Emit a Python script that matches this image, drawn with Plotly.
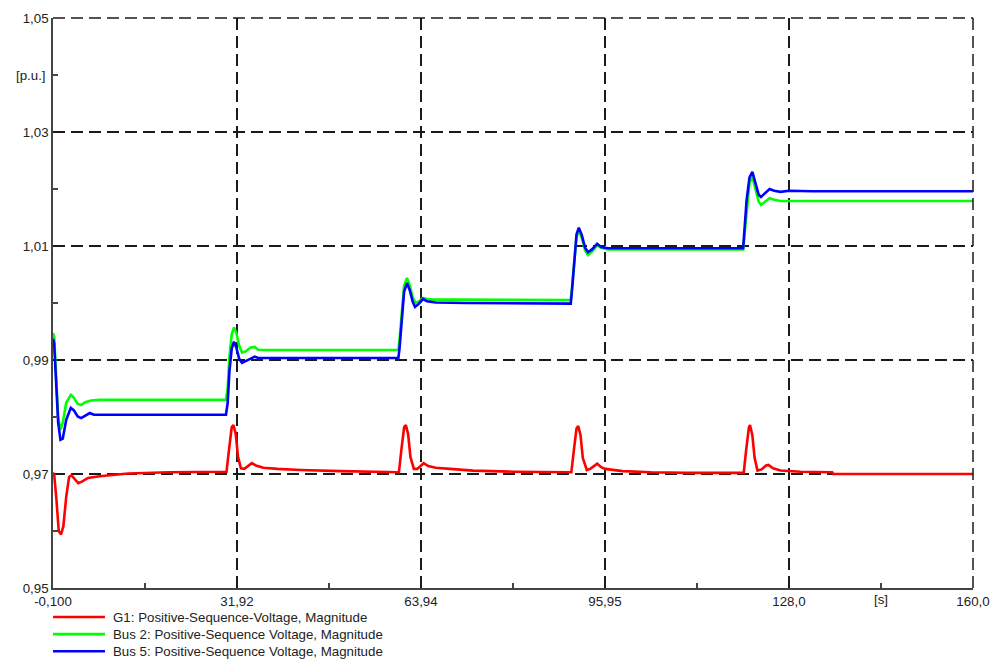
import plotly.graph_objects as go

# ---- data ----
t_g1 = [-0.1, 0.1, 0.5, 0.9, 1.3, 1.7, 2.2, 2.7, 3.1, 3.7, 4.3, 5.0, 6.0, 8.0, 10.0, 13.0, 20.0, 30.0,
        30.1, 30.5, 31.0, 31.3, 31.7, 32.1, 32.6, 33.2, 34.0, 34.5, 35.2, 36.5, 39.0, 43.0, 50.0, 60.0,
        60.1, 60.5, 61.0, 61.3, 61.7, 62.1, 62.7, 63.3, 64.0, 64.4, 65.2, 66.5, 69.0, 73.0, 80.0, 90.0,
        90.1, 90.5, 91.0, 91.3, 91.7, 92.1, 92.8, 93.4, 94.2, 94.6, 95.3, 96.0, 99.0, 104.0, 110.0, 120.0,
        120.1, 120.5, 121.0, 121.2, 121.6, 122.0, 122.5, 123.2, 124.0, 124.4, 125.2, 126.5, 130.0, 135.5, 135.7, 160.0]
v_g1 = [0.9702, 0.9700, 0.9655, 0.9600, 0.9594, 0.9608, 0.9660, 0.9695, 0.9698, 0.9690, 0.9684, 0.9687, 0.9693, 0.9696, 0.9698, 0.9701, 0.9703, 0.9704,
        0.9704, 0.9740, 0.9782, 0.9786, 0.9770, 0.9730, 0.9710, 0.9709, 0.9716, 0.9719, 0.9715, 0.9711, 0.9709, 0.9707, 0.9705, 0.9703,
        0.9703, 0.9740, 0.9782, 0.9786, 0.9770, 0.9730, 0.9709, 0.9709, 0.9716, 0.9719, 0.9714, 0.9711, 0.9709, 0.9706, 0.9704, 0.9703,
        0.9703, 0.9738, 0.9780, 0.9784, 0.9768, 0.9728, 0.9707, 0.9709, 0.9716, 0.9718, 0.9712, 0.9709, 0.9705, 0.9703, 0.9702, 0.9702,
        0.9702, 0.9740, 0.9782, 0.9786, 0.9768, 0.9728, 0.9706, 0.9708, 0.9715, 0.9716, 0.9710, 0.9706, 0.9704, 0.9703, 0.9700, 0.9700]

t_bus2 = [-0.1, 0.1, 0.4, 0.8, 1.2, 1.6, 2.2, 3.0, 3.5, 4.2, 4.8, 5.5, 6.5, 8.0, 30.0,
          30.3, 30.6, 31.0, 31.4, 31.8, 32.3, 32.8, 33.4, 34.3, 35.0, 35.6, 37.0, 60.0,
          60.2, 60.6, 61.0, 61.5, 62.0, 62.5, 63.0, 63.6, 64.3, 65.0, 66.0, 70.0, 90.0,
          90.2, 90.6, 91.0, 91.4, 91.9, 92.5, 93.0, 93.7, 94.6, 95.3, 96.5, 120.0,
          120.2, 120.6, 121.1, 121.6, 122.1, 122.7, 123.1, 123.8, 124.6, 125.4, 126.5, 160.0]
v_bus2 = [0.9947, 0.9942, 0.9880, 0.9800, 0.9778, 0.9790, 0.9825, 0.9839, 0.9834, 0.9823, 0.9821, 0.9826, 0.9829, 0.9830, 0.9830,
          0.9850, 0.9905, 0.9945, 0.9957, 0.9948, 0.9925, 0.9913, 0.9915, 0.9922, 0.9923, 0.9918, 0.99175, 0.99175,
          0.9935, 0.9985, 1.0030, 1.0044, 1.0030, 1.0010, 1.0000, 1.0003, 1.0009, 1.0007, 1.0006, 1.0006, 1.0005,
          1.0025, 1.0075, 1.0115, 1.0128, 1.0115, 1.0092, 1.0084, 1.0090, 1.0101, 1.0097, 1.0094, 1.0094,
          1.0115, 1.0170, 1.0210, 1.0221, 1.0200, 1.0178, 1.0172, 1.0177, 1.0184, 1.0181, 1.0179, 1.0179]

t_bus5 = [-0.1, 0.1, 0.4, 0.8, 1.2, 1.6, 2.2, 3.0, 3.5, 4.2, 4.8, 5.5, 6.3, 7.0, 30.0,
          30.3, 30.6, 31.0, 31.4, 31.8, 32.3, 32.8, 33.4, 34.3, 35.0, 35.6, 60.0,
          60.2, 60.6, 61.0, 61.5, 62.0, 62.5, 62.9, 63.5, 64.3, 65.0, 66.5, 72.0, 90.0,
          90.2, 90.6, 91.0, 91.4, 91.9, 92.5, 93.0, 93.7, 94.6, 95.3, 96.5, 120.0,
          120.2, 120.6, 121.1, 121.6, 122.1, 122.7, 123.1, 123.8, 124.6, 125.4, 126.5, 128.0, 132.0, 160.0]
v_bus5 = [0.9937, 0.9930, 0.9870, 0.9790, 0.9760, 0.9762, 0.9795, 0.9816, 0.9812, 0.9801, 0.9798, 0.9802, 0.9807, 0.9804, 0.9804,
          0.9825, 0.9880, 0.9920, 0.9932, 0.9922, 0.9902, 0.9895, 0.9898, 0.9903, 0.9906, 0.99035, 0.99035,
          0.9920, 0.9975, 1.0020, 1.0035, 1.0022, 1.0002, 0.9993, 0.9998, 1.0007, 1.0003, 1.0001, 1.0000, 0.9999,
          1.0020, 1.0075, 1.0120, 1.0132, 1.0120, 1.0097, 1.0089, 1.0094, 1.0104, 1.0098, 1.0096, 1.0096,
          1.0120, 1.0180, 1.0220, 1.0230, 1.0212, 1.0190, 1.0186, 1.0192, 1.0200, 1.0197, 1.0195, 1.0197, 1.0196, 1.0196]

names = ["G1: Positive-Sequence-Voltage, Magnitude",
         "Bus 2: Positive-Sequence Voltage, Magnitude",
         "Bus 5: Positive-Sequence Voltage, Magnitude"]
colors = ["#ff0000", "#00ff00", "#0000ff"]

x_tickvals = [-0.1, 31.92, 63.94, 95.95, 127.97, 160.0]
x_ticktext = ["-0,100", "31,92", "63,94", "95,95", "128,0", "160,0"]
x_minor = [15.91, 47.93, 79.945, 111.96, 143.985]
y_tickvals = [0.95, 0.97, 0.99, 1.01, 1.03, 1.05]
y_ticktext = ["0,95", "0,97", "0,99", "1,01", "1,03", "1,05"]
y_minor = [0.96, 0.98, 1.00, 1.02, 1.04]

font = "Liberation Sans, Arial, sans-serif"
fsize = 13.3
txt = "#222222"
dash = "12px,6px"
grid = dict(showgrid=True, gridcolor="#1a1a1a", gridwidth=1.5, griddash=dash,
            showline=True, linecolor="#444444", linewidth=1.6, zeroline=False,
            automargin=False, ticklabeloverflow="allow", ticks="",
            tickfont=dict(family=font, size=fsize, color=txt))

fig = go.Figure()
for t, v, n, c in zip([t_g1, t_bus2, t_bus5], [v_g1, v_bus2, v_bus5], names, colors):
    fig.add_trace(go.Scatter(x=t, y=v, mode="lines", name=n,
                             line=dict(color=c, width=2.6), showlegend=False))

fig.update_xaxes(range=[-0.1, 160.0], tickvals=x_tickvals, ticktext=x_ticktext,
                 minor=dict(tickvals=x_minor, ticks="inside", ticklen=5, tickcolor="#444444",
                            tickwidth=1.5, showgrid=False),
                 **grid)
fig.update_yaxes(range=[0.95, 1.05], tickvals=y_tickvals, ticktext=y_ticktext,
                 minor=dict(tickvals=y_minor, ticks="inside", ticklen=5, tickcolor="#444444",
                            tickwidth=1.5, showgrid=False),
                 **grid)

# dashed top and right edges of the frame
fig.add_shape(type="line", xref="paper", yref="paper", x0=0, x1=1, y0=1, y1=1,
              line=dict(color="#1a1a1a", width=1.5, dash=dash))
fig.add_shape(type="line", xref="paper", yref="paper", x0=1, x1=1, y0=0, y1=1,
              line=dict(color="#1a1a1a", width=1.5, dash=dash))

# unit labels sit where the minor tick labels would be
fig.add_annotation(x=143.985, y=0, xref="x", yref="paper", yanchor="top", yshift=-2,
                   text="[s]", showarrow=False, font=dict(family=font, size=fsize, color=txt))
fig.add_annotation(x=0, y=1.04, xref="paper", yref="y", xanchor="right", xshift=-5,
                   text="[p.u.]", showarrow=False, font=dict(family=font, size=fsize, color=txt))

# legend drawn under the axis
leg_y = [-0.051, -0.081, -0.111]
for n, c, ly in zip(names, colors, leg_y):
    fig.add_shape(type="line", xref="paper", yref="paper", x0=0.0, x1=0.0565, y0=ly, y1=ly,
                  line=dict(color=c, width=2.6))
    fig.add_annotation(x=0.063, y=ly, xref="paper", yref="paper", xanchor="left", yanchor="middle",
                       text=n, showarrow=False, font=dict(family=font, size=fsize, color=txt))

fig.update_layout(width=996, height=662, autosize=False,
                  margin=dict(l=53, r=23, t=18, b=74),
                  paper_bgcolor="white", plot_bgcolor="white",
                  font=dict(family=font, size=fsize, color=txt))

# drop the page's default body margin so the figure fills the window
fig.write_html("out.html", config={"displayModeBar": False},
               post_script="document.body.style.margin='0';document.body.style.overflow='hidden';")
